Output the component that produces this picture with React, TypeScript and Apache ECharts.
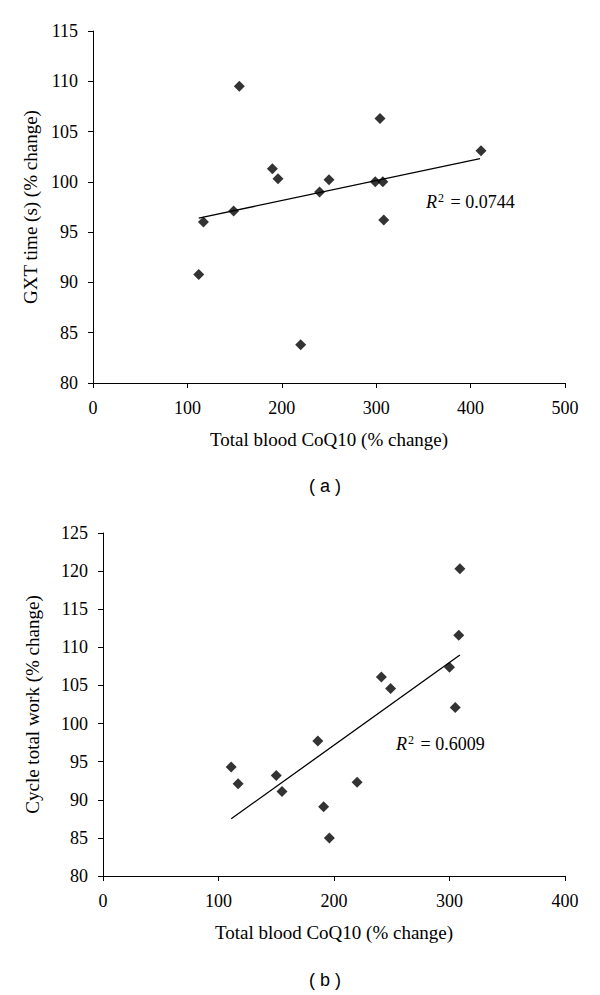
import React, { useEffect, useRef } from "react";
import * as echarts from "echarts";

// Panel (a): GXT time vs total blood CoQ10
const aX = [155, 304, 411, 190, 196, 250, 240, 299, 307, 149, 117, 308, 112, 220];
const aY = [109.5, 106.3, 103.1, 101.3, 100.3, 100.2, 99.0, 100.0, 100.0, 97.1, 96.0, 96.2, 90.8, 83.8];
const aTrendX = [112, 410];
const aTrendY = [96.4, 102.3];
const aR2 = "0.0744";

// Panel (b): Cycle total work vs total blood CoQ10
const bX = [309, 308, 300, 241, 249, 305, 186, 111, 150, 117, 220, 155, 191, 196];
const bY = [120.3, 111.6, 107.4, 106.1, 104.6, 102.1, 97.7, 94.3, 93.2, 92.1, 92.3, 91.1, 89.1, 85.0];
const bTrendX = [111, 309];
const bTrendY = [87.5, 109.0];
const bR2 = "0.6009";

const xTitle = "Total blood CoQ10 (% change)";
const aYTitle = "GXT time (s) (% change)";
const bYTitle = "Cycle total work (% change)";

const SERIF = "Liberation Serif";
const SANS = "Liberation Sans";

const zip = (xs: number[], ys: number[]) => xs.map((x, i) => [x, ys[i]]);

export default function App() {
  const ref = useRef<HTMLDivElement>(null);
  useEffect(() => {
    if (!ref.current) return;
    const chart = echarts.init(ref.current, undefined, { renderer: "svg" });
    const axisLine = { show: true, onZero: false, lineStyle: { color: "#000", width: 1 } };
    const axisTick = { show: true, length: 5, inside: false, lineStyle: { color: "#000", width: 1 } };
    const labelStyle = { color: "#000", fontFamily: SERIF, fontSize: 18 };
    const nameStyle = { color: "#000", fontFamily: SERIF, fontSize: 19 };
    const mkX = (gridIndex: number, max: number) => ({
      type: "value",
      gridIndex,
      min: 0,
      max,
      interval: 100,
      axisLine,
      axisTick,
      splitLine: { show: false },
      axisLabel: { ...labelStyle, margin: 16 },
      name: xTitle,
      nameLocation: "middle",
      nameGap: 47,
      nameTextStyle: nameStyle,
    });
    const mkY = (gridIndex: number, max: number, name: string, gap: number) => ({
      type: "value",
      gridIndex,
      min: 80,
      max,
      interval: 5,
      axisLine,
      axisTick,
      splitLine: { show: false },
      axisLabel: { ...labelStyle, margin: 15 },
      name,
      nameLocation: "middle",
      nameGap: gap,
      nameTextStyle: nameStyle,
    });
    const scatter = (i: number, xs: number[], ys: number[]) => ({
      type: "scatter",
      xAxisIndex: i,
      yAxisIndex: i,
      symbol: "diamond",
      symbolSize: 11,
      itemStyle: { color: "#000" },
      data: zip(xs, ys),
      z: 3,
    });
    const trend = (i: number, xs: number[], ys: number[]) => ({
      type: "line",
      xAxisIndex: i,
      yAxisIndex: i,
      showSymbol: false,
      symbol: "none",
      lineStyle: { color: "#000", width: 1.3 },
      data: zip(xs, ys),
      z: 2,
    });
    const r2Text = (left: number, top: number, val: string) => ({
      type: "text",
      left,
      top,
      style: {
        text: `{i|R}{s|2}{n| = ${val}}`,
        rich: {
          i: { fontFamily: SERIF, fontSize: 18, fontStyle: "italic", fill: "#000", color: "#000" },
          s: { fontFamily: SERIF, fontSize: 12, fill: "#000", color: "#000", verticalAlign: "top", padding: [0, 2, 8, 1] },
          n: { fontFamily: SERIF, fontSize: 18, fill: "#000", color: "#000" },
        },
      },
    });
    chart.setOption({
      animation: false,
      backgroundColor: "#fff",
      grid: [
        { left: 93, width: 472, top: 31, height: 352 },
        { left: 103, width: 462, top: 533, height: 343 },
      ],
      xAxis: [mkX(0, 500), mkX(1, 400)],
      yAxis: [mkY(0, 115, aYTitle, 53), mkY(1, 125, bYTitle, 61)],
      series: [
        trend(0, aTrendX, aTrendY),
        scatter(0, aX, aY),
        trend(1, bTrendX, bTrendY),
        scatter(1, bX, bY),
      ],
      graphic: [
        r2Text(426, 192, aR2),
        r2Text(396, 734, bR2),
        {
          type: "text",
          left: 309,
          top: 477,
          style: { text: "( a )", fontFamily: SANS, fontSize: 18, fill: "#000" },
        },
        {
          type: "text",
          left: 309,
          top: 971,
          style: { text: "( b )", fontFamily: SANS, fontSize: 18, fill: "#000" },
        },
      ],
    });
    return () => chart.dispose();
  }, []);
  return (
    <div
      ref={ref}
      style={{ position: "absolute", left: 0, top: 0, width: 600, height: 995, background: "#fff" }}
    />
  );
}
